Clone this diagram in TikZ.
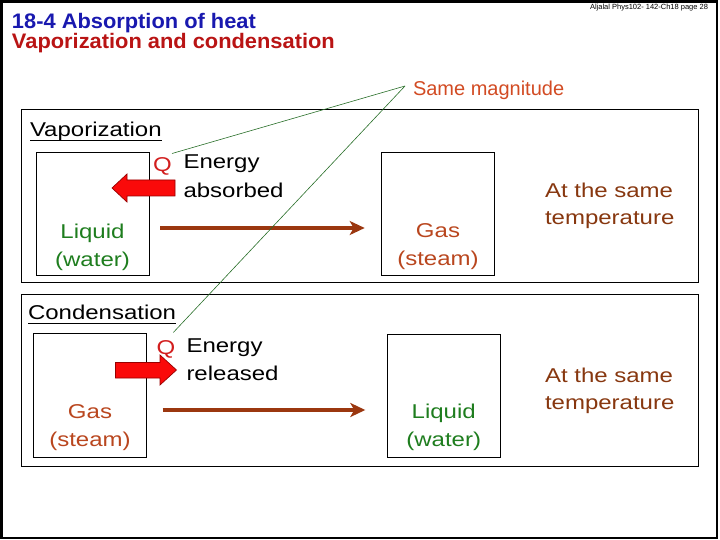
\documentclass[tikz,border=0pt]{standalone}
\usepackage{fontspec}
\setmainfont{Liberation Sans}
\newfontfamily\bodyf[FakeStretch=1.2]{Liberation Sans}
\newfontfamily\titlef[FakeStretch=1.04]{Liberation Sans}
\usetikzlibrary{arrows.meta}
\definecolor{titleblue}{RGB}{25,25,175}
\definecolor{titlered}{RGB}{185,20,20}
\definecolor{magcol}{RGB}{210,75,35}
\definecolor{liqgreen}{RGB}{30,125,30}
\definecolor{gascol}{RGB}{185,70,30}
\definecolor{tempcol}{RGB}{135,55,15}
\definecolor{arrbrown}{RGB}{155,55,15}
\definecolor{qred}{RGB}{210,30,30}
\definecolor{lnkgreen}{RGB}{40,110,40}
\definecolor{blockred}{RGB}{250,10,10}
\definecolor{blockedge}{RGB}{150,0,0}
\begin{document}
\begin{tikzpicture}[x=1pt,y=-1pt,
  every node/.style={inner sep=0pt,outer sep=0pt},
  body/.style={font=\bodyf\fontsize{20}{28}\selectfont},
  ttl/.style={font=\titlef\bfseries\fontsize{21}{24}\selectfont, anchor=base west},
  panel/.style={draw=black, line width=0.9pt, anchor=north west},
  box/.style={draw=black, line width=0.8pt, anchor=north west},
  phase/.style={draw=arrbrown, line width=3.8pt, -{Stealth[length=15pt,width=14pt,inset=4pt]}},
  link/.style={draw=lnkgreen, line width=0.6pt},
  block/.style={fill=blockred, draw=blockedge, line width=0.7pt}]
\useasboundingbox (0,0) rectangle (720,540);
\draw[line width=2.7pt] (1.3,1.3) rectangle (717,538);

% header
\node[anchor=base east, font=\fontsize{7.5}{9}\selectfont] (hdr) at (708,10) {Aljalal Phys102- 142-Ch18 page 28};
\node[ttl, text=titleblue] (t1) at (12,29) {18-4 Absorption of heat};
\node[ttl, text=titlered] (t2) at (12,49) {Vaporization and condensation};
\node[anchor=base west, text=magcol, font=\fontsize{20}{24}\selectfont] (same) at (413,96) {Same magnitude};

% panels
\node[panel, minimum width=676.5pt, minimum height=173pt] (ptop) at (21.7,109.3) {};
\node[panel, minimum width=676.5pt, minimum height=172pt] (pbot) at (21.7,294.2) {};

% ---- Vaporization ----
\node[body, anchor=base west] (vap) at (30,136.5) {Vaporization};
\draw[line width=1.1pt] ([yshift=-3.8pt]vap.base west) -- ([yshift=-3.8pt]vap.base east);
\node[box, minimum width=113pt, minimum height=122.7pt] (liq1) at (36,152.3) {};
\node[body, anchor=base, text=liqgreen] (liq1a) at (92.5,238) {Liquid};
\node[body, anchor=base, text=liqgreen] (liq1b) at (92.5,266) {(water)};
\node[box, minimum width=112.6pt, minimum height=122.3pt] (gas1) at (381.7,152.7) {};
\node[body, anchor=base, text=gascol] (gas1a) at (438,237) {Gas};
\node[body, anchor=base, text=gascol] (gas1b) at (438,265) {(steam)};
\node[body, anchor=base west, text=qred] (q1) at (153,172) {Q};
\node[body, anchor=base west] (en1) at (183.5,169) {Energy};
\node[body, anchor=base west] (ab1) at (183.5,197.5) {absorbed};
\node[body, anchor=base west, text=tempcol] (tm1a) at (545,197) {At the same};
\node[body, anchor=base west, text=tempcol] (tm1b) at (545,224.5) {temperature};
\coordinate (y1) at (0,228);
\draw[phase] ([xshift=11pt]liq1.east |- y1) -- ([xshift=-17pt]gas1.west |- y1);
\draw[block] (112,188) -- (127,174) -- (127,180) -- (175,180) -- (175,196) -- (127,196) -- (127,202) -- cycle;

% ---- Condensation ----
\node[body, anchor=base west] (con) at (28,319.5) {Condensation};
\draw[line width=1.1pt] ([yshift=-3.8pt]con.base west) -- ([yshift=-3.8pt]con.base east);
\node[box, minimum width=113.4pt, minimum height=124pt] (gas2) at (33.3,333.3) {};
\node[body, anchor=base, text=gascol] (gas2a) at (90,418) {Gas};
\node[body, anchor=base, text=gascol] (gas2b) at (90,446) {(steam)};
\node[box, minimum width=112.7pt, minimum height=123pt] (liq2) at (387.3,334.3) {};
\node[body, anchor=base, text=liqgreen] (liq2a) at (443.7,418.5) {Liquid};
\node[body, anchor=base, text=liqgreen] (liq2b) at (443.7,446.5) {(water)};
\node[body, anchor=base west, text=qred] (q2) at (156.5,354) {Q};
\node[body, anchor=base west] (en2) at (186.5,352) {Energy};
\node[body, anchor=base west] (re2) at (186.5,380.5) {released};
\node[body, anchor=base west, text=tempcol] (tm2a) at (545,382) {At the same};
\node[body, anchor=base west, text=tempcol] (tm2b) at (545,409.5) {temperature};
\coordinate (y2) at (0,410);
\draw[phase] ([xshift=16pt]gas2.east |- y2) -- ([xshift=-22pt]liq2.west |- y2);
\draw[block] (115.5,362.5) -- (160,362.5) -- (160,355) -- (176.5,370) -- (160,385) -- (160,378) -- (115.5,378) -- cycle;

% ---- Same magnitude links ----
\coordinate (sm) at ([xshift=-8pt,yshift=10pt]same.base west);
\coordinate (qa) at (172,153.5);
\coordinate (qb) at (173.3,332.5);
\draw[link] (sm) -- (qa);
\draw[link] (sm) -- (qb);
\end{tikzpicture}
\end{document}
